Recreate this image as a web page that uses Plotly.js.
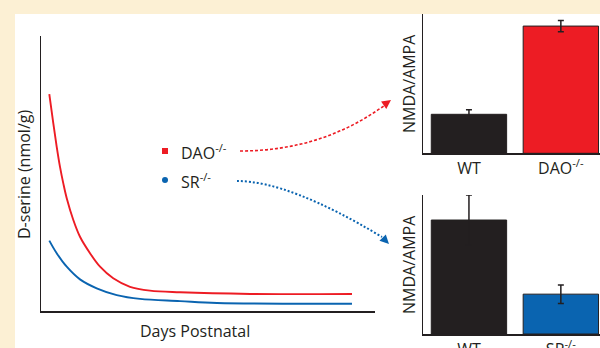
<!DOCTYPE html>
<html>
<head>
<meta charset="utf-8">
<script src="https://cdn.plot.ly/plotly-3.0.1.min.js"></script>
<style>html,body{margin:0;padding:0;background:#FCF0D4;}#chart{width:600px;height:348px;}</style>
</head>
<body>
<div id="chart"></div>
<script>
// ---- data ----
const daysDao = [0.92, 1.36, 1.74, 2.1, 2.47, 2.85, 3.58, 4.32, 5.43, 6.54, 8.0, 9.86, 12.07, 15.4, 23.2, 34.45];
const daoSerine = [78.9, 68.3, 59.7, 52.5, 46.4, 41.0, 33.1, 27.0, 21.0, 16.1, 11.9, 8.8, 7.4, 6.8, 6.2, 6.2];
const daysSr = [0.92, 1.74, 2.85, 4.32, 6.17, 8.39, 10.97, 15.4, 19.5, 34.45];
const srSerine = [25.6, 21.0, 16.1, 11.5, 8.25, 5.8, 4.4, 3.6, 2.9, 2.65];

const genotypesTop = ['WT', 'DAO<sup>-/-</sup>'];
const ratioTop = [0.42, 1.37];
const errTop = [0.05, 0.06];

const genotypesBottom = ['WT', 'SR<sup>-/-</sup>'];
const ratioBottom = [1.23, 0.43];
const errBottom = [0.27, 0.10];

// ---- styles ----
const RED = '#ED1C24', BLUE = '#0A64B0', INK = '#231F20', CREAM = '#FCF0D4';
const FONT = 'Open Sans, Noto Sans, sans-serif';
const W = 600, H = 348;
const PX = p => p / W, PY = p => 1 - p / H;

const traces = [
  {x: daysDao, y: daoSerine, type: 'scatter', mode: 'lines', line: {color: RED, width: 1.9, shape: 'spline', smoothing: 1}, xaxis: 'x', yaxis: 'y', hoverinfo: 'skip'},
  {x: daysSr, y: srSerine, type: 'scatter', mode: 'lines', line: {color: BLUE, width: 1.9, shape: 'spline', smoothing: 1}, xaxis: 'x', yaxis: 'y', hoverinfo: 'skip'},
  {x: genotypesTop, y: ratioTop, type: 'bar', width: 0.82, xaxis: 'x2', yaxis: 'y2',
   marker: {color: [INK, RED], line: {color: INK, width: 1}},
   error_y: {type: 'data', array: errTop, visible: true, color: INK, thickness: 1.5, width: 3}},
  {x: genotypesBottom, y: ratioBottom, type: 'bar', width: 0.82, xaxis: 'x3', yaxis: 'y3',
   marker: {color: [INK, BLUE], line: {color: INK, width: 1}},
   error_y: {type: 'data', array: errBottom, visible: true, color: INK, thickness: 1.5, width: 3}}
];

const axLine = {showline: true, linecolor: INK, linewidth: 1.5, showgrid: false, zeroline: false, ticks: '', fixedrange: true};
const barX = (dom) => Object.assign({}, axLine, {domain: dom, range: [-0.5, 1.426], type: 'category',
  tickfont: {family: FONT, size: 16, color: INK}, ticklen: 0});

function quad(p0, c, p1) {
  return 'M ' + PX(p0[0]) + ',' + PY(p0[1]) + ' Q ' + PX(c[0]) + ',' + PY(c[1]) + ' ' + PX(p1[0]) + ',' + PY(p1[1]);
}
// filled arrowhead: tip point and direction (from tail to tip), in pixels
function head(tip, dir, len, half) {
  const m = Math.hypot(dir[0], dir[1]);
  const d = [dir[0] / m, dir[1] / m], n = [-d[1], d[0]];
  const b = [tip[0] - len * d[0], tip[1] - len * d[1]];
  const a = [b[0] + half * n[0], b[1] + half * n[1]], c = [b[0] - half * n[0], b[1] - half * n[1]];
  return 'M ' + PX(tip[0]) + ',' + PY(tip[1]) + ' L ' + PX(a[0]) + ',' + PY(a[1]) + ' L ' + PX(c[0]) + ',' + PY(c[1]) + ' Z';
}

const layout = {
  width: W, height: H, autosize: false,
  margin: {l: 0, r: 0, t: 0, b: 0, pad: 0},
  paper_bgcolor: CREAM, plot_bgcolor: 'rgba(0,0,0,0)',
  showlegend: false,
  font: {family: FONT, color: INK},
  xaxis: Object.assign({}, axLine, {domain: [PX(41), PX(375)], range: [0, 37], showticklabels: false, anchor: 'y'}),
  yaxis: Object.assign({}, axLine, {domain: [PY(311), PY(36)], range: [0, 100], showticklabels: false, anchor: 'x'}),
  xaxis2: Object.assign(barX([PX(423), 1]), {anchor: 'y2'}),
  yaxis2: Object.assign({}, axLine, {domain: [PY(153.3), PY(14)], range: [0, 1.5], showticklabels: false, anchor: 'x2'}),
  xaxis3: Object.assign(barX([PX(423), 1]), {anchor: 'y3'}),
  yaxis3: Object.assign({}, axLine, {domain: [PY(334), PY(195)], range: [0, 1.5], showticklabels: false, anchor: 'x3'}),
  shapes: [
    {type: 'rect', xref: 'paper', yref: 'paper', x0: PX(15), x1: 1, y0: 0, y1: PY(14), fillcolor: '#FFFFFF', line: {width: 0}, layer: 'below'},
    {type: 'rect', xref: 'paper', yref: 'paper', x0: PX(162), x1: PX(168), y0: PY(154), y1: PY(148), fillcolor: RED, line: {width: 0}},
    {type: 'circle', xref: 'paper', yref: 'paper', x0: PX(162), x1: PX(168), y0: PY(183), y1: PY(177), fillcolor: BLUE, line: {width: 0}},
    {type: 'path', xref: 'paper', yref: 'paper', path: quad([240, 151], [322, 151], [385, 105]), line: {color: RED, width: 1.6, dash: '3px,2px'}},
    {type: 'path', xref: 'paper', yref: 'paper', path: head([391, 100], [7, -5], 9, 4.5), fillcolor: RED, line: {width: 0}},
    {type: 'path', xref: 'paper', yref: 'paper', path: quad([237, 181], [289, 181], [382, 237]), line: {color: BLUE, width: 2, dash: '2px,2px'}},
    {type: 'path', xref: 'paper', yref: 'paper', path: head([389, 244], [6, 6], 9, 4.5), fillcolor: BLUE, line: {width: 0}}
  ],
  annotations: [
    {xref: 'paper', yref: 'paper', x: PX(24), y: PY(175), xanchor: 'center', yanchor: 'middle', text: 'D-serine (nmol/g)', textangle: -90, showarrow: false, font: {size: 16, color: INK}},
    {xref: 'paper', yref: 'paper', x: PX(195), y: PY(331), xanchor: 'center', yanchor: 'middle', text: 'Days Postnatal', showarrow: false, font: {size: 16, color: INK}},
    {xref: 'paper', yref: 'paper', x: PX(409), y: PY(84), xanchor: 'center', yanchor: 'middle', text: 'NMDA/AMPA', textangle: -90, showarrow: false, font: {size: 16, color: INK}},
    {xref: 'paper', yref: 'paper', x: PX(409), y: PY(265), xanchor: 'center', yanchor: 'middle', text: 'NMDA/AMPA', textangle: -90, showarrow: false, font: {size: 16, color: INK}},
    {xref: 'paper', yref: 'paper', x: PX(179), y: PY(152), xanchor: 'left', yanchor: 'middle', text: 'DAO<sup>-/-</sup>', showarrow: false, font: {size: 16, color: INK}},
    {xref: 'paper', yref: 'paper', x: PX(179), y: PY(181), xanchor: 'left', yanchor: 'middle', text: 'SR<sup>-/-</sup>', showarrow: false, font: {size: 16, color: INK}}
  ]
};

Plotly.newPlot('chart', traces, layout, {staticPlot: true, displayModeBar: false});
</script>
</body>
</html>
